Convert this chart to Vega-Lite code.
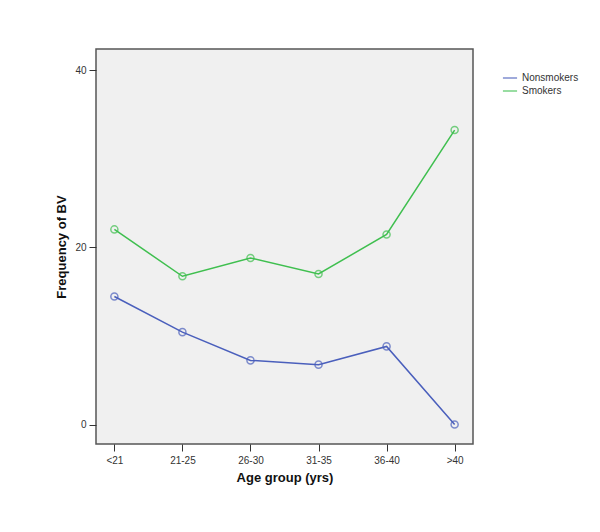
{
  "$schema": "https://vega.github.io/schema/vega-lite/v6.json",
  "autosize": "none",
  "width": 377,
  "height": 395,
  "padding": {"left": 96, "top": 49, "right": 127, "bottom": 88},
  "background": "white",
  "config": {
    "font": "Liberation Sans",
    "view": {"fill": "#f0f0f0", "stroke": "#555555", "strokeWidth": 1.5},
    "axis": {"domain": false, "grid": false, "tickColor": "#333333", "tickSize": 7, "labelColor": "#333333", "labelFontSize": 10, "titleFontSize": 13, "titleFontWeight": "bold", "titleColor": "#111111"}
  },
  "data": {"values": [
    {"age": "<21", "group": "Nonsmokers", "freq": 14.45},
    {"age": "21-25", "group": "Nonsmokers", "freq": 10.43},
    {"age": "26-30", "group": "Nonsmokers", "freq": 7.24},
    {"age": "31-35", "group": "Nonsmokers", "freq": 6.76},
    {"age": "36-40", "group": "Nonsmokers", "freq": 8.82},
    {"age": ">40", "group": "Nonsmokers", "freq": 0},
    {"age": "<21", "group": "Smokers", "freq": 22.03},
    {"age": "21-25", "group": "Smokers", "freq": 16.74},
    {"age": "26-30", "group": "Smokers", "freq": 18.8},
    {"age": "31-35", "group": "Smokers", "freq": 17.0},
    {"age": "36-40", "group": "Smokers", "freq": 21.46},
    {"age": ">40", "group": "Smokers", "freq": 33.25}
  ]},
  "encoding": {
    "x": {"field": "age", "type": "ordinal", "sort": null,
      "scale": {"type": "point", "padding": 0.27},
      "axis": {"title": "Age group (yrs)", "labelAngle": 0, "labelPadding": 4, "titlePadding": 6}},
    "y": {"field": "freq", "type": "quantitative",
      "scale": {"domain": [-2.2, 42.4], "nice": false, "zero": false},
      "axis": {"title": "Frequency of BV", "values": [0, 20, 40], "labelPadding": 3, "titlePadding": 6}},
    "color": {"field": "group", "type": "nominal",
      "scale": {"domain": ["Nonsmokers", "Smokers"], "range": ["#4a5fbc", "#3fbf4f"]},
      "legend": {"title": null, "orient": "none", "legendX": 406, "legendY": 21, "symbolType": "stroke", "symbolSize": 200, "symbolStrokeWidth": 1.5, "labelFontSize": 10, "labelColor": "#333333", "rowPadding": 0, "labelOffset": 4}}
  },
  "layer": [
    {"mark": {"type": "line", "strokeWidth": 1.5}},
    {"mark": {"type": "point", "filled": false, "size": 50, "strokeWidth": 1.5}}
  ]
}
